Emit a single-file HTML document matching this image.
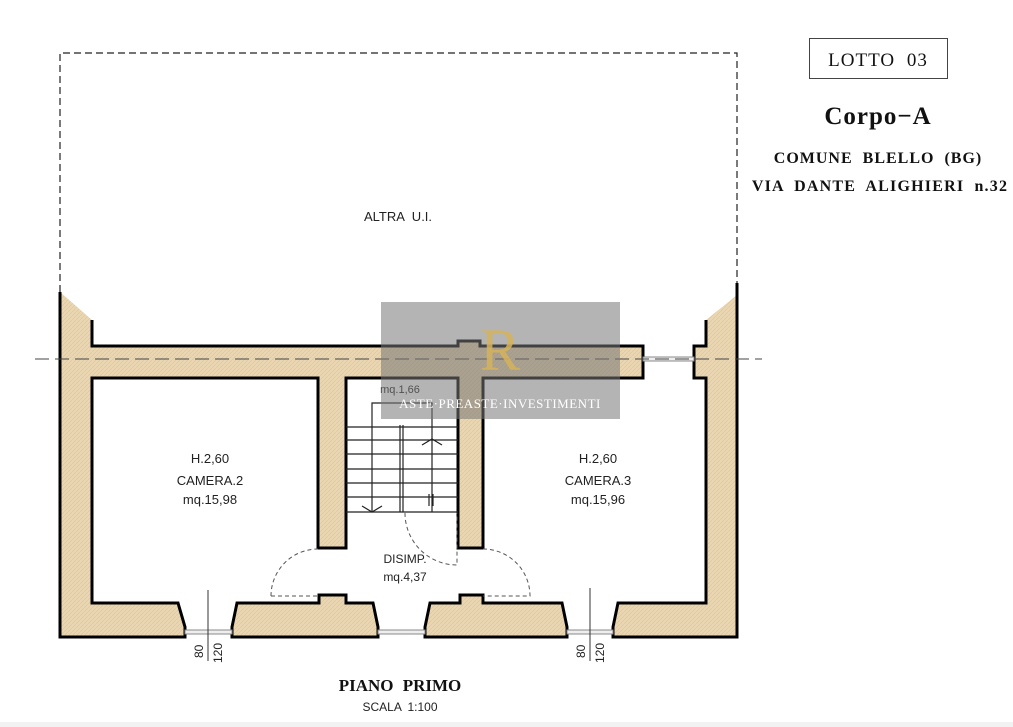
<!DOCTYPE html>
<html><head><meta charset="utf-8"><style>
html,body{margin:0;padding:0;background:#fff;}
svg{display:block;}
</style></head><body>
<svg width="1013" height="727" viewBox="0 0 1013 727" xmlns="http://www.w3.org/2000/svg">
<defs>
<pattern id="h" width="4" height="4" patternUnits="userSpaceOnUse">
<rect width="4" height="4" fill="#ead6b2"/><path d="M0 4L4 0" stroke="#dcc59d" stroke-width="0.6"/>
</pattern>
</defs>
<rect width="1013" height="727" fill="#fff"/>
<path d="M60 292V53H737V283" fill="none" stroke="#222" stroke-width="1.2" stroke-dasharray="7 4"/>
<text x="398" y="221" font-family="Liberation Sans, sans-serif" font-size="13" text-anchor="middle" fill="#222" word-spacing="4">ALTRA U.I.</text>
<g fill="url(#h)" stroke="#000" stroke-width="3" stroke-linejoin="miter">
<polygon points="60,292 60,637 185,637 185,627 178,603 92,603 92,378 318,378 318,548 346,548 346,378 458,378 458,548 483,548 483,378 643,378 643,346 480,346 480,341 458,341 458,346 92,346 92,320" stroke="none"/>
<polyline fill="none" points="92,320 92,346 458,346 458,341 480,341 480,346 643,346 643,378 483,378 483,548 458,548 458,378 346,378 346,548 318,548 318,378 92,378 92,603 178,603 185,627 185,637 60,637 60,292"/>
<polygon points="737,295 737,637 613,637 613,627 618,603 706,603 706,378 694,378 694,346 706,346 706,320" stroke="none"/>
<polyline fill="none" points="737,283 737,637 613,637 613,627 618,603 706,603 706,378 694,378 694,346 706,346 706,320"/>
<polygon points="232,637 232,627 237,603 319,603 319,595 346,595 346,603 373,603 378,627 378,637"/>
<polygon points="425,637 425,627 430,603 460,603 460,595 483,595 483,603 562,603 567,627 567,637"/>
</g>
<g stroke="#888" stroke-width="1" fill="#eee">
<rect x="185" y="630" width="47" height="4"/>
<rect x="378" y="630" width="47" height="4"/>
<rect x="567" y="630" width="46" height="4"/>
<rect x="643" y="357" width="51" height="4"/>
</g>
<path d="M35 359H762" stroke="#444" stroke-width="1" stroke-dasharray="14 6"/>
<g stroke="#222" stroke-width="1.2" fill="none">
<path d="M346 427H458M346 440H458M346 454H458M346 469H458M346 483H458M346 497H458M346 512H458"/>
<path d="M400 425V512M403 425V512"/>
<path d="M372 512V403H432V512"/>
<path d="M362 506L372 512L382 506M422 445L432 439L442 445"/>
<path d="M429 494V506M433 494V506"/>
</g>
<g stroke="#555" stroke-width="1" fill="none" stroke-dasharray="4 3">
<path d="M271 596A47 47 0 0 1 318 549"/>
<path d="M271 596H318"/>
<path d="M483 549A47 47 0 0 1 530 596H483"/>
<path d="M405 513A52 52 0 0 0 457 565V513"/>
</g>
<g stroke="#333" stroke-width="1"><path d="M208 590V661M590 588V661"/></g>
<g font-family="Liberation Sans, sans-serif" font-size="12" fill="#222">
<text transform="translate(203,658) rotate(-90)">80</text>
<text transform="translate(222,663) rotate(-90)">120</text>
<text transform="translate(585,658) rotate(-90)">80</text>
<text transform="translate(604,663) rotate(-90)">120</text>
</g>
<g font-family="Liberation Sans, sans-serif" font-size="13" fill="#222" text-anchor="middle">
<text x="210" y="463">H.2,60</text>
<text x="210" y="485">CAMERA.2</text>
<text x="210" y="504">mq.15,98</text>
<text x="598" y="463">H.2,60</text>
<text x="598" y="485">CAMERA.3</text>
<text x="598" y="504">mq.15,96</text>
<text x="400" y="393" font-size="11">mq.1,66</text>
<text x="405" y="563" font-size="12">DISIMP.</text>
<text x="405" y="581" font-size="12">mq.4,37</text>
</g>
<rect x="381" y="302" width="239" height="117" fill="#777" opacity="0.55"/>
<text x="500" y="370" font-family="Liberation Serif, serif" font-size="60" fill="#d6b35a" text-anchor="middle" opacity="0.85">R</text>
<text x="500" y="408" font-family="Liberation Serif, serif" font-size="13" fill="#fff" text-anchor="middle" letter-spacing="0.5">ASTE·PREASTE·INVESTIMENTI</text>
<rect x="809.5" y="38.5" width="138" height="40" fill="none" stroke="#444" stroke-width="1"/>
<g font-family="Liberation Serif, serif" fill="#111" text-anchor="middle">
<text x="878" y="66" font-size="19" letter-spacing="1" word-spacing="6">LOTTO 03</text>
<text x="878" y="124" font-size="25" font-weight="bold" letter-spacing="1">Corpo−A</text>
<text x="878" y="163" font-size="16" font-weight="bold" letter-spacing="1" word-spacing="5">COMUNE BLELLO (BG)</text>
<text x="880" y="191" font-size="16" font-weight="bold" letter-spacing="1.2" word-spacing="5">VIA DANTE ALIGHIERI n.32</text>
<text x="400" y="691" font-size="17" font-weight="bold" word-spacing="5">PIANO PRIMO</text>
</g>
<text x="400" y="711" font-family="Liberation Sans, sans-serif" font-size="12" fill="#222" text-anchor="middle" word-spacing="3">SCALA 1:100</text>
<rect x="0" y="722" width="1013" height="5" fill="#f2f2f2"/>
</svg>
</body></html>
